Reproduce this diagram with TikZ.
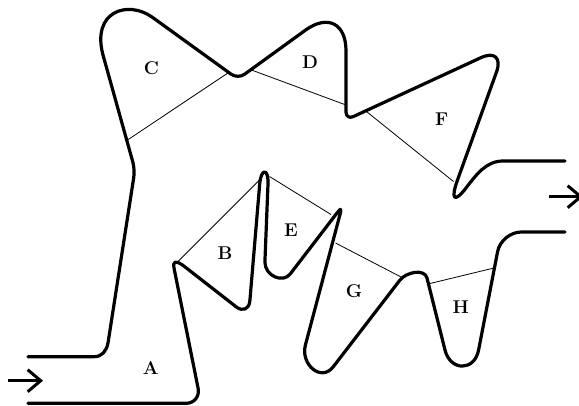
\documentclass[tikz,border=0pt]{standalone}
\usepackage{fontspec}
\usetikzlibrary{arrows.meta}
\begin{document}
\begin{tikzpicture}[x=1pt,y=-1pt,
  wall/.style={line width=3.2pt,line cap=round,line join=round},
  divider/.style={line width=0.8pt},
  flow/.style={line width=3pt,-{Straight Barb[length=13pt,width=22pt]}},
  lbl/.style={font=\fontsize{18.5}{22}\selectfont\bfseries,inner sep=0pt}]
\useasboundingbox (0,0) rectangle (579,405);
\clip (0,0) rectangle (579,405);
% upper wall
\draw[wall] (28,356.7) -- (94,356.7) .. controls (102,356.7) and (106.5,351) .. (108,343)
  -- (133.7,177.9) .. controls (134.4,173.5) and (134.1,166.6) .. (132.9,162.3)
  -- (103,55) .. controls (91.4,11.5) and (127.4,-0.2) .. (152,17)
  -- (231.4,74.4) .. controls (235,76.9) and (240.9,76.9) .. (244.5,74.3)
  -- (305.4,30.2) .. controls (327.8,14.1) and (346,23.4) .. (346,51)
  -- (346,112) .. controls (346,116.4) and (349.3,118.4) .. (353.3,116.6)
  -- (480.6,57.8) .. controls (494.6,51.3) and (501.7,57.8) .. (496.4,72.3)
  -- (457.5,180) .. controls (450.7,198.8) and (453.8,203.8) .. (466,188)
  .. controls (476,175) and (486,161) .. (503,161) -- (565,161);
% lower wall
\draw[wall] (28,403.3) -- (186,403.3) .. controls (194.3,403.3) and (199.7,396.4) .. (198.1,388.3)
  -- (174.2,269) .. controls (172.4,260.2) and (175.9,260.5) .. (183.3,265.6)
  -- (236,306.7) .. controls (242.9,312.1) and (249.2,309.3) .. (249.9,300.5)
  -- (259.7,184) .. controls (261,168) and (268.6,168) .. (268,184)
  -- (264.9,262) .. controls (264.9,276) and (282.9,283.5) .. (290.2,274)
  -- (334.7,216) .. controls (340.8,208.1) and (342.2,206.3) .. (339.6,216)
  -- (305.4,345) .. controls (300.3,364.3) and (321.1,382.6) .. (333.3,366.7)
  -- (400,280) .. controls (406.1,272.1) and (424.6,268.3) .. (427,278)
  -- (445,350) .. controls (450.3,371.3) and (474.4,371.6) .. (478.6,350)
  -- (497.6,251.6) .. controls (499.7,240.8) and (510.4,232) .. (521.4,232) -- (565,232);
% divider end points
\coordinate (c1) at (127.5,140); \coordinate (c2) at (228.5,72.6);
\coordinate (d1) at (251.5,70);  \coordinate (d2) at (346,105);
\coordinate (f1) at (366.7,111.7); \coordinate (f2) at (453.5,181.5);
\coordinate (b1) at (178.5,261); \coordinate (b2) at (259.5,180);
\coordinate (e1) at (269.5,176.5); \coordinate (e2) at (331,214.5);
\coordinate (g1) at (335.5,243); \coordinate (g2) at (402,277.5);
\coordinate (h1) at (430,283.5); \coordinate (h2) at (494,268);
\draw[divider] (c1) -- (c2);
\draw[divider] (d1) -- (d2);
\draw[divider] (f1) -- (f2);
\draw[divider] (b1) -- (b2);
\draw[divider] (e1) -- (e2);
\draw[divider] (g1) -- (g2);
\draw[divider] (h1) -- (h2);
% labels
\node[lbl] (A) at (150.8,367.8) {A};
\node[lbl] (B) at (225,252.7) {B};
\node[lbl] (C) at (151.3,68) {C};
\node[lbl] (D) at (310,61.7) {D};
\node[lbl] (E) at (291,230) {E};
\node[lbl] (F) at (441.7,119.2) {F};
\node[lbl] (G) at (354,291.3) {G};
\node[lbl] (H) at (460.8,306.7) {H};
% flow arrows
\coordinate (in0) at (8.3,380.7); \coordinate (in1) at (43,380.7);
\coordinate (out0) at (549.3,196.7); \coordinate (out1) at (583,196.7);
\draw[flow] (in0) -- (in1);
\draw[flow] (out0) -- (out1);
\end{tikzpicture}
\end{document}
